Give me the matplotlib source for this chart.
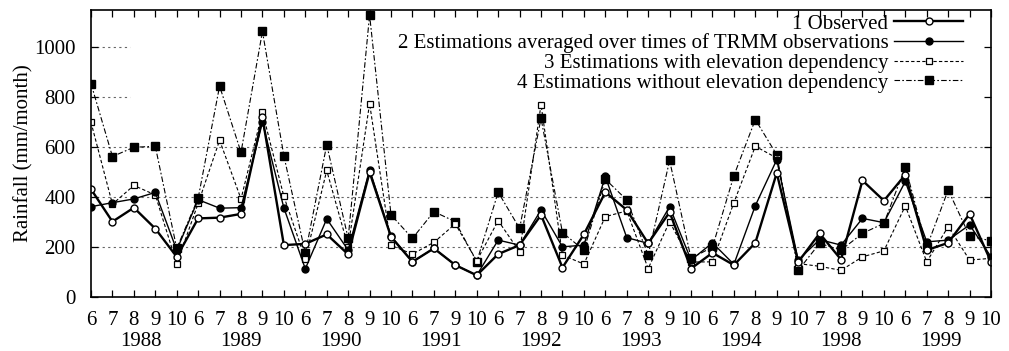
import numpy as np
import matplotlib
matplotlib.use('Agg')
import matplotlib.pyplot as plt

# months sampled in each year
years = ['1988', '1989', '1990', '1991', '1992', '1993', '1994', '1998', '1999']
months = [[6, 7, 8, 9, 10], [6, 7, 8, 9, 10], [6, 7, 8, 9, 10], [6, 7, 9, 10],
          [6, 7, 8, 9, 10], [6, 7, 8, 9, 10], [6, 7, 8, 9, 10], [7, 8, 9, 10],
          [6, 7, 8, 9, 10]]

# rainfall (mm/month)
observed = [432, 302, 358, 274, 161, 315, 318, 333, 720, 208,
            213, 251, 171, 500, 241, 141, 195, 128, 87,
            172, 208, 329, 118, 251, 420, 349, 215, 340, 114,
            177, 128, 217, 497, 140, 255, 150, 467, 386,
            490, 188, 217, 333, 141]
averaged = [362, 378, 393, 419, 188, 390, 356, 358, 700, 357,
            113, 313, 188, 510, 244, 141, 195, 128, 87,
            228, 208, 349, 201, 208, 483, 238, 215, 362, 148,
            217, 131, 366, 550, 148, 230, 208, 315, 298,
            463, 221, 228, 289, 161]
with_elev = [700, 372, 447, 409, 134, 375, 628, 393, 741, 403,
             152, 507, 201, 775, 207, 172, 219, 293, 145,
             306, 181, 771, 168, 132, 322, 345, 114, 302, 140,
             141, 378, 604, 557, 134, 123, 107, 161, 185,
             365, 141, 282, 148, 155]
without_elev = [855, 563, 600, 604, 195, 396, 845, 580, 1064, 566,
                175, 610, 235, 1130, 329, 235, 342, 302, 141,
                420, 275, 716, 258, 188, 472, 389, 168, 547, 155,
                200, 486, 711, 570, 107, 215, 188, 255, 295,
                521, 200, 429, 244, 225]

plt.rcParams['font.family'] = ['Liberation Serif', 'DejaVu Serif']
fs = 15

month_labels = [str(m) for ms in months for m in ms]
x = np.arange(len(month_labels))

fig = plt.figure(figsize=(10.09, 3.51), dpi=100)
ax = fig.add_axes([0.0902, 0.1538, 0.892, 0.8177])

# grid (the upper two lines are hidden behind the key in the original)
for v in [200, 400, 600]:
    ax.axhline(v, color='0.4', lw=0.8, ls=(0, (2, 3)), zorder=0)
ax.hlines([800, 1000], 0, 1.8, color='0.4', lw=0.8, ls=(0, (2, 3)), zorder=0)

l4, = ax.plot(x, without_elev, color='black', lw=0.8, ls=(0, (5, 2, 1.5, 2)),
              marker='s', ms=5.5, mfc='black', mec='black',
              label='4 Estimations without elevation dependency')
l3, = ax.plot(x, with_elev, color='black', lw=0.8, ls=(0, (3, 2)),
              marker='s', ms=5, mfc='white', mec='black', mew=0.9,
              label='3 Estimations with elevation dependency')
l2, = ax.plot(x, averaged, color='black', lw=1.0, ls='-',
              marker='o', ms=5, mfc='black', mec='black',
              label='2 Estimations averaged over times of TRMM observations')
l1, = ax.plot(x, observed, color='black', lw=1.7, ls='-',
              marker='o', ms=5, mfc='white', mec='black', mew=1.0,
              label='1 Observed')

ax.set_xlim(0, len(x) - 1)
ax.set_ylim(0, 1150)
ax.set_xticks(x)
ax.set_xticklabels(month_labels)
ax.set_yticks(range(0, 1001, 200))
ax.tick_params(direction='in', top=True, right=True, length=5, width=0.9,
               labelsize=fs)
ax.tick_params(axis='x', pad=10)
ax.tick_params(axis='y', pad=11)
for s in ax.spines.values():
    s.set_linewidth(1.2)

# year labels, spread evenly under the month labels
for k, yr in enumerate(years):
    ax.text((k + 0.5) / len(years), -0.121, yr, transform=ax.transAxes,
            ha='center', va='top', fontsize=fs)

ax.set_ylabel('Rainfall (mm/month)', fontsize=fs)
ax.yaxis.set_label_coords(-0.064, 0.5)

ax.legend(handles=[l1, l2, l3, l4], loc='upper right', markerfirst=False,
          frameon=False, fontsize=fs, handlelength=3.3, handletextpad=0.28,
          labelspacing=0, borderpad=0, borderaxespad=0,
          bbox_to_anchor=(963 / 1009, 1 - 14 / 351), bbox_transform=fig.transFigure)

fig.savefig('out.png', dpi=100)
